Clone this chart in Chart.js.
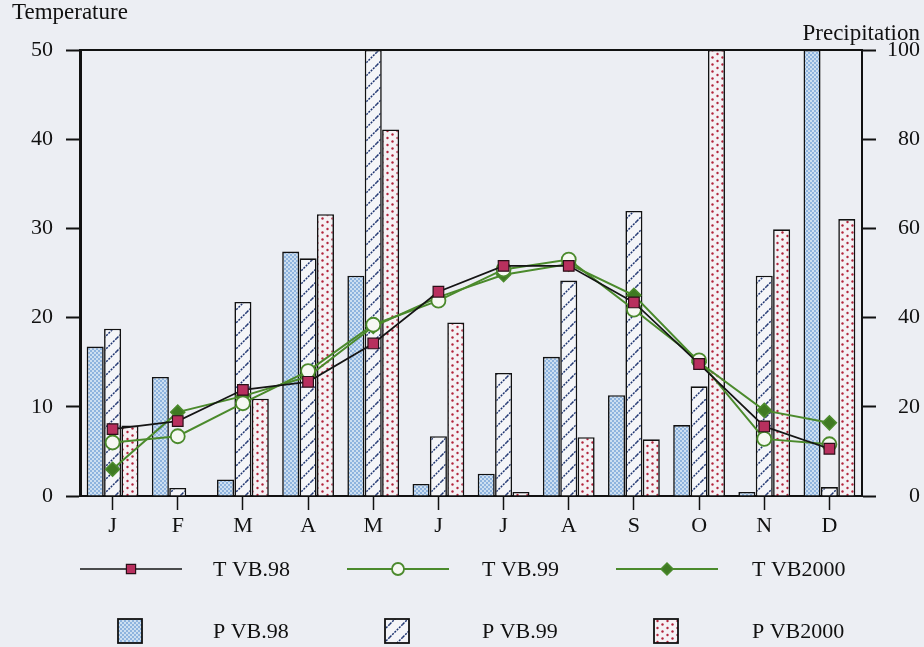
<!DOCTYPE html>
<html>
<head>
<meta charset="utf-8">
<script src="https://cdn.jsdelivr.net/npm/chart.js@4"></script>
<style>
  body { margin: 0; background: #eceef3; }
  canvas { display: block; }
</style>
</head>
<body>
<canvas id="climateChart" width="924" height="647"></canvas>
<script>
// Monthly data
const months = ['J', 'F', 'M', 'A', 'M', 'J', 'J', 'A', 'S', 'O', 'N', 'D'];
const tVB98 = [7.5, 8.4, 11.9, 12.8, 17.1, 22.9, 25.8, 25.8, 21.7, 14.8, 7.8, 5.3];
const tVB99 = [6.0, 6.7, 10.4, 14.0, 19.2, 21.9, 25.4, 26.5, 20.9, 15.2, 6.4, 5.8];
const tVB2000 = [3.0, 9.4, 11.2, 13.4, 19.0, 22.3, 24.8, 26.0, 22.5, 15.0, 9.6, 8.2];
const pVB98 = [33.5, 26.7, 3.7, 54.8, 49.4, 2.7, 5.0, 31.2, 22.6, 15.9, 0.9, 100];
const pVB99 = [37.5, 1.8, 43.5, 53.3, 100, 13.4, 27.6, 48.3, 63.9, 24.6, 49.4, 2.0];
const pVB2000 = [15.8, null, 21.8, 63.2, 82.2, 38.9, 0.9, 13.2, 12.7, 100, 59.8, 62.1];
const tempTicks = [0, 10, 20, 30, 40, 50];
const precipTicks = [0, 20, 40, 60, 80, 100];

const FONT = '"Liberation Serif", "Times New Roman", serif';
const BG = '#eceef3';

// Fill patterns for the precipitation bars
function makePattern(w, h, draw) {
    const c = document.createElement('canvas');
    c.width = w;
    c.height = h;
    draw(c.getContext('2d'), w, h);
    return c.getContext('2d').createPattern(c, 'repeat');
}

const blueFill = makePattern(4, 4, (g) => {
    g.fillStyle = '#cddff1';
    g.fillRect(0, 0, 4, 4);
    g.fillStyle = '#8fb4de';
    g.fillRect(0, 0, 2, 2);
    g.fillRect(2, 2, 2, 2);
});

const hatchFill = makePattern(13, 13, (g, w, h) => {
    g.fillStyle = '#f4f5f8';
    g.fillRect(0, 0, w, h);
    g.strokeStyle = '#1d3470';
    g.lineWidth = 1.5;
    g.setLineDash([2, 1.2]);
    g.beginPath();
    g.moveTo(0, h);
    g.lineTo(w, 0);
    g.moveTo(-3, 3);
    g.lineTo(3, -3);
    g.moveTo(w - 3, h + 3);
    g.lineTo(w + 3, h - 3);
    g.stroke();
});

const dotFill = makePattern(10, 7, (g, w, h) => {
    g.fillStyle = '#f5f1f4';
    g.fillRect(0, 0, w, h);
    g.fillStyle = '#b3263d';
    g.beginPath();
    g.arc(2.5, 1.5, 1.2, 0, Math.PI * 2);
    g.fill();
    g.beginPath();
    g.arc(7.5, 5, 1.2, 0, Math.PI * 2);
    g.fill();
});

const lineSets = [
    { label: 'T VB.98', data: tVB98, borderColor: '#151515', borderWidth: 1.7,
      pointStyle: 'rect', pointRadius: 7.5, pointBackgroundColor: '#b8305e', pointBorderColor: '#2a1018', pointBorderWidth: 1.2 },
    { label: 'T VB.99', data: tVB99, borderColor: '#4b8a2c', borderWidth: 2,
      pointStyle: 'circle', pointRadius: 7, pointBackgroundColor: '#f6f8f2', pointBorderColor: '#4b8a2c', pointBorderWidth: 1.8 },
    { label: 'T VB2000', data: tVB2000, borderColor: '#4b8a2c', borderWidth: 2,
      pointStyle: 'rectRot', pointRadius: 7, pointBackgroundColor: '#3f7a22', pointBorderColor: '#4b8a2c', pointBorderWidth: 1.5 }
];

const barSets = [
    { label: 'P VB.98', data: pVB98, backgroundColor: blueFill },
    { label: 'P VB.99', data: pVB99, backgroundColor: hatchFill },
    { label: 'P VB2000', data: pVB2000, backgroundColor: dotFill }
];

const datasets = [];
lineSets.forEach(s => datasets.push(Object.assign({
    type: 'line', yAxisID: 'y', order: 0, fill: false, tension: 0,
    pointHoverRadius: 7
}, s)));
barSets.forEach(s => datasets.push(Object.assign({
    type: 'bar', yAxisID: 'y1', order: 1,
    borderColor: '#111', borderWidth: 1.6,
    barPercentage: 0.98, categoryPercentage: 0.8
}, s)));

// Background, frame, axis titles and the two-row legend
const decorations = {
    id: 'decorations',
    beforeDraw(chart) {
        const ctx = chart.ctx;
        ctx.save();
        ctx.fillStyle = BG;
        ctx.fillRect(0, 0, chart.width, chart.height);
        ctx.restore();
    },
    afterDraw(chart) {
        const ctx = chart.ctx;
        const area = chart.chartArea;
        ctx.save();
        // top edge of the frame
        ctx.strokeStyle = '#111';
        ctx.lineWidth = 2;
        ctx.beginPath();
        ctx.moveTo(area.left, area.top);
        ctx.lineTo(area.right, area.top);
        ctx.stroke();

        ctx.fillStyle = '#111';
        ctx.font = '23px ' + FONT;
        ctx.textBaseline = 'alphabetic';
        ctx.textAlign = 'left';
        ctx.fillText('Temperature', 12, 19);
        ctx.textAlign = 'right';
        ctx.fillText('Precipitation', 920, 40);

        // legend
        ctx.font = '22px ' + FONT;
        ctx.textAlign = 'left';
        ctx.textBaseline = 'middle';
        const cols = [80, 347, 616];
        const textX = [213, 482, 752];
        const row1 = 569, row2 = 631;
        lineSets.forEach((s, i) => {
            const x0 = cols[i], x1 = cols[i] + 102;
            ctx.strokeStyle = s.borderColor;
            ctx.lineWidth = s.borderWidth;
            ctx.beginPath();
            ctx.moveTo(x0, row1);
            ctx.lineTo(x1, row1);
            ctx.stroke();
            ctx.fillStyle = s.pointBackgroundColor;
            ctx.strokeStyle = s.pointBorderColor;
            ctx.lineWidth = s.pointBorderWidth;
            Chart.helpers.drawPoint(ctx, {
                pointStyle: s.pointStyle,
                radius: s.pointRadius - 1,
                rotation: 0,
                borderWidth: s.pointBorderWidth
            }, (x0 + x1) / 2, row1);
            ctx.fillStyle = '#111';
            ctx.fillText(s.label, textX[i], row1 + 1);
        });
        barSets.forEach((s, i) => {
            const bx = cols[i] + 38, by = row2 - 12;
            ctx.fillStyle = s.backgroundColor;
            ctx.fillRect(bx, by, 24, 24);
            ctx.strokeStyle = '#111';
            ctx.lineWidth = 1.8;
            ctx.strokeRect(bx, by, 24, 24);
            ctx.fillStyle = '#111';
            ctx.fillText(s.label, textX[i], row2 + 1);
        });
        ctx.restore();
    }
};

const climateCtx = document.getElementById('climateChart').getContext('2d');

new Chart(climateCtx, {
    data: { labels: months, datasets: datasets },
    options: {
        responsive: false,
        animation: false,
        layout: { padding: { top: 50, left: 0, right: 4, bottom: 0 } },
        plugins: {
            legend: { display: false },
            tooltip: { enabled: false }
        },
        scales: {
            x: {
                offset: true,
                grid: {
                    offset: false,
                    drawOnChartArea: false,
                    tickLength: 14,
                    tickColor: '#111',
                    tickWidth: 1.5
                },
                border: { display: true, color: '#111', width: 2 },
                ticks: { color: '#111', padding: 3, font: { family: FONT, size: 22 }, maxRotation: 0, autoSkip: false },
                afterFit(scale) { scale.height = 151; }
            },
            y: {
                position: 'left',
                min: 0,
                max: 50,
                afterBuildTicks(scale) { scale.ticks = tempTicks.map(v => ({ value: v })); },
                grid: { drawOnChartArea: false, tickLength: 14, tickColor: '#111', tickWidth: 2 },
                border: { display: true, color: '#111', width: 3 },
                ticks: { color: '#111', padding: 13, font: { family: FONT, size: 22 } },
                afterFit(scale) { scale.width = 80; }
            },
            y1: {
                position: 'right',
                min: 0,
                max: 100,
                afterBuildTicks(scale) { scale.ticks = precipTicks.map(v => ({ value: v })); },
                grid: { drawOnChartArea: false, tickLength: 14, tickColor: '#111', tickWidth: 2 },
                border: { display: true, color: '#111', width: 2 },
                ticks: { color: '#111', padding: 4, crossAlign: 'far', font: { family: FONT, size: 22 } },
                afterFit(scale) { scale.width = 58; }
            }
        }
    },
    plugins: [decorations]
});
</script>
</body>
</html>
